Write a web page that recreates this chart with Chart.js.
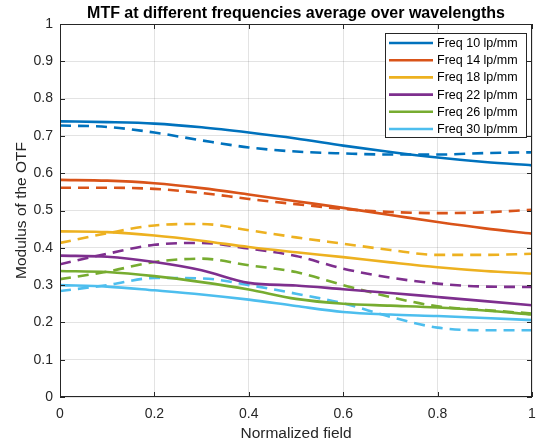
<!DOCTYPE html>
<html>
<head>
<meta charset="utf-8">
<script src="https://cdn.jsdelivr.net/npm/chart.js@4/dist/chart.umd.min.js"></script>
<style>
  html, body { margin:0; padding:0; background:#fff; }
  #wrap { width:537px; height:448px; }
</style>
</head>
<body>
<div id="wrap"><canvas id="c" width="537" height="448"></canvas></div>
<script>
// Normalized field positions
const fieldX = [0, 0.1, 0.2, 0.3, 0.4, 0.5, 0.6, 0.7, 0.8, 0.9, 1.0];

const freqLabels = ['Freq 10 lp/mm','Freq 14 lp/mm','Freq 18 lp/mm','Freq 22 lp/mm','Freq 26 lp/mm','Freq 30 lp/mm'];
const freqColors = ['#0072BD','#D95319','#EDB120','#7E2F8E','#77AC30','#4DBEEE'];

// solid curves
const solid10 = [0.739,0.737,0.733,0.723,0.709,0.693,0.674,0.657,0.642,0.630,0.621];
const solid14 = [0.582,0.580,0.573,0.560,0.543,0.525,0.507,0.488,0.469,0.452,0.438];
const solid18 = [0.444,0.442,0.433,0.419,0.402,0.388,0.375,0.361,0.348,0.338,0.331];
const solid22 = [0.379,0.376,0.362,0.340,0.306,0.299,0.289,0.279,0.268,0.257,0.246];
const solid26 = [0.338,0.335,0.324,0.308,0.288,0.263,0.250,0.245,0.240,0.232,0.221];
const solid30 = [0.300,0.296,0.286,0.275,0.261,0.244,0.228,0.221,0.217,0.212,0.206];

// dashed curves
const dash10 = [0.728,0.724,0.709,0.688,0.669,0.658,0.653,0.650,0.650,0.654,0.656];
const dash14 = [0.561,0.561,0.558,0.547,0.531,0.517,0.504,0.496,0.493,0.495,0.502];
const dash18 = [0.413,0.439,0.460,0.464,0.447,0.428,0.411,0.394,0.381,0.381,0.384];
const dash22 = [0.356,0.384,0.408,0.413,0.398,0.378,0.344,0.320,0.304,0.296,0.295];
const dash26 = [0.316,0.336,0.362,0.371,0.353,0.335,0.300,0.268,0.243,0.233,0.224];
const dash30 = [0.284,0.300,0.319,0.318,0.300,0.277,0.251,0.215,0.186,0.179,0.179];

const solids = [solid10, solid14, solid18, solid22, solid26, solid30];
const dashes = [dash10, dash14, dash18, dash22, dash26, dash30];

const titleText = 'MTF at different frequencies average over wavelengths';
const AXIS = '#262626';
const FONT = "'Liberation Sans', Arial, Helvetica, sans-serif";

function pts(arr) {
  return arr.map((v, i) => ({ x: fieldX[i], y: v }));
}

const datasets = [];
solids.forEach((s, i) => {
  datasets.push({ label: freqLabels[i], data: pts(s), borderColor: freqColors[i], borderWidth: 2.6,
    pointRadius: 0, fill: false, cubicInterpolationMode: 'monotone' });
});
dashes.forEach((s, i) => {
  datasets.push({ label: freqLabels[i] + ' (dash)', data: pts(s), borderColor: freqColors[i], borderWidth: 2.6,
    borderDash: [11, 7], pointRadius: 0, fill: false, cubicInterpolationMode: 'monotone' });
});

// title over the axes, box, inward ticks and legend like the original figure
const frame = {
  id: 'frame',
  afterDraw(chart) {
    const ctx = chart.ctx, a = chart.chartArea;
    const xs = chart.scales.x, ys = chart.scales.y;
    ctx.save();
    ctx.fillStyle = '#000';
    ctx.font = 'bold 16px ' + FONT;
    ctx.textAlign = 'center';
    ctx.textBaseline = 'alphabetic';
    ctx.fillText(titleText, (a.left + a.right) / 2, 18);

    ctx.strokeStyle = AXIS;
    ctx.lineWidth = 1;
    ctx.strokeRect(a.left + 0.5, a.top + 0.5, a.right - a.left - 1, a.bottom - a.top - 1);
    ctx.beginPath();
    xs.ticks.forEach(t => {
      const px = Math.round(xs.getPixelForValue(t.value)) + 0.5;
      ctx.moveTo(px, a.bottom); ctx.lineTo(px, a.bottom - 5);
      ctx.moveTo(px, a.top); ctx.lineTo(px, a.top + 5);
    });
    ys.ticks.forEach(t => {
      const py = Math.round(ys.getPixelForValue(t.value)) + 0.5;
      ctx.moveTo(a.left, py); ctx.lineTo(a.left + 5, py);
      ctx.moveTo(a.right, py); ctx.lineTo(a.right - 5, py);
    });
    ctx.stroke();

    // legend
    const lx = 385, ly = 33, lw = 141, lh = 104;
    ctx.fillStyle = '#fff';
    ctx.fillRect(lx, ly, lw, lh);
    ctx.strokeStyle = AXIS;
    ctx.strokeRect(lx + 0.5, ly + 0.5, lw, lh);
    ctx.font = '12.5px ' + FONT;
    ctx.textAlign = 'left';
    ctx.textBaseline = 'middle';
    freqLabels.forEach((lab, i) => {
      const y = ly + 10 + i * 17.2;
      ctx.strokeStyle = freqColors[i];
      ctx.lineWidth = 2.6;
      ctx.beginPath(); ctx.moveTo(389, y); ctx.lineTo(433, y); ctx.stroke();
      ctx.fillStyle = '#000';
      ctx.fillText(lab, 437, y + 0.5);
    });
    ctx.restore();
  }
};

new Chart(document.getElementById('c'), {
  type: 'line',
  data: { datasets: datasets },
  options: {
    responsive: false,
    animation: false,
    layout: { padding: { left: 12, right: 5, top: 24, bottom: 0 } },
    plugins: {
      legend: { display: false },
      tooltip: { enabled: false },
      title: { display: false }
    },
    scales: {
      x: {
        type: 'linear', min: 0, max: 1,
        grid: { color: 'rgba(38,38,38,0.13)', drawTicks: false },
        border: { display: false },
        ticks: { stepSize: 0.2, color: AXIS, padding: 9, font: { family: FONT, size: 14 },
          maxRotation: 0, callback: v => String(Math.round(v * 10) / 10) },
        title: { display: true, text: 'Normalized field', color: AXIS, padding: { top: 0, bottom: 5 },
          font: { family: FONT, size: 15.5 } },
        afterFit(s) { s.height = 51; s.paddingLeft = 0; s.paddingRight = 0; }
      },
      y: {
        type: 'linear', min: 0, max: 1,
        grid: { color: 'rgba(38,38,38,0.13)', drawTicks: false },
        border: { display: false },
        ticks: { stepSize: 0.1, color: AXIS, padding: 7, font: { family: FONT, size: 14 },
          callback: v => String(Math.round(v * 10) / 10) },
        title: { display: true, text: 'Modulus of the OTF', color: AXIS, padding: { top: 0, bottom: 0 },
          font: { family: FONT, size: 15.5 } },
        afterFit(s) { s.width = 48; s.paddingTop = 0; s.paddingBottom = 0; }
      }
    }
  },
  plugins: [frame]
});
</script>
</body>
</html>
